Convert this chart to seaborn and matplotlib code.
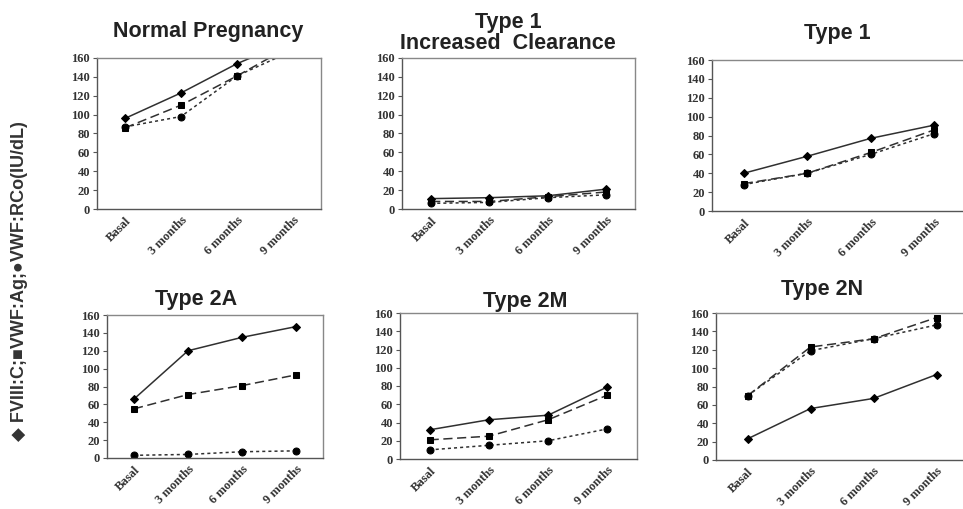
import numpy as np
import pandas as pd
import matplotlib
matplotlib.use("Agg")
import matplotlib.pyplot as plt
import seaborn as sns

sns.set_style("white")
plt.rcParams['font.family'] = ['Liberation Sans', 'DejaVu Sans']

categories = ["Basal", "3 months", "6 months", "9 months"]
yticks = [0, 20, 40, 60, 80, 100, 120, 140, 160]

panel_titles = ["Normal Pregnancy", "Type 1\nIncreased  Clearance", "Type 1",
                "Type 2A", "Type 2M", "Type 2N"]

# FVIII:C (solid, diamond), VWF:Ag (dashed, square), VWF:RCo (dotted, circle)
normal_fviii = [96, 123, 154, 179]
normal_ag = [86, 110, 141, 174]
normal_rco = [87, 98, 141, 168]

t1ic_fviii = [11, 12, 14, 21]
t1ic_ag = [8, 8, 13, 18]
t1ic_rco = [6, 7, 12, 15]

t1_fviii = [40, 58, 77, 91]
t1_ag = [29, 40, 62, 86]
t1_rco = [28, 40, 60, 82]

t2a_fviii = [66, 120, 135, 147]
t2a_ag = [55, 71, 81, 93]
t2a_rco = [3, 4, 7, 8]

t2m_fviii = [32, 43, 48, 79]
t2m_ag = [21, 25, 43, 70]
t2m_rco = [10, 15, 20, 33]

t2n_fviii = [23, 56, 67, 93]
t2n_ag = [70, 123, 132, 155]
t2n_rco = [70, 119, 132, 147]

panels = [
    (normal_fviii, normal_ag, normal_rco),
    (t1ic_fviii, t1ic_ag, t1ic_rco),
    (t1_fviii, t1_ag, t1_rco),
    (t2a_fviii, t2a_ag, t2a_rco),
    (t2m_fviii, t2m_ag, t2m_rco),
    (t2n_fviii, t2n_ag, t2n_rco),
]

W, H = 963, 509
fig = plt.figure(figsize=(W / 100, H / 100), dpi=100)

# axes boxes in pixels: left, top, right, bottom
boxes = [
    (97, 58, 321, 209),
    (402, 58, 635, 209),
    (712, 60, 966, 211),
    (107, 315, 323, 458),
    (400, 313, 637, 459),
    (716, 313, 968, 460),
]
title_pos = [(208, 31), (508, 33), (837, 34), (196, 300), (525, 301), (822, 290)]

styles = [
    dict(linestyle="-", marker="D", markersize=4),
    dict(linestyle=(0, (6, 3)), marker="s", markersize=5),
    dict(linestyle=(0, (2, 2)), marker="o", markersize=5),
]
line_color = "#303030"

for i, (series, box, tpos, title) in enumerate(zip(panels, boxes, title_pos, panel_titles)):
    l, t, r, b = box
    ax = fig.add_axes([l / W, 1 - b / H, (r - l) / W, (b - t) / H])
    xpos = np.arange(len(categories)) + 0.5
    for vals, st in zip(series, styles):
        df = pd.DataFrame({"x": xpos, "y": vals})
        sns.lineplot(data=df, x="x", y="y", ax=ax, color=line_color, linewidth=1.1,
                     markeredgecolor="black", markerfacecolor="black", **st)
    ax.set_xlim(0, len(categories))
    ax.set_ylim(0, 160)
    ax.set_yticks(yticks)
    ax.set_yticklabels([str(v) for v in yticks], fontfamily="Liberation Serif",
                       fontweight="bold", fontsize=9, color="#333333")
    ax.set_xticks(np.arange(len(categories) + 1))
    ax.set_xticklabels([])
    ax.set_xticks(xpos, minor=True)
    ax.set_xticklabels(categories, minor=True, rotation=45, ha="right",
                       rotation_mode="anchor", fontfamily="Liberation Serif",
                       fontweight="bold", fontsize=9, color="#333333")
    ax.tick_params(axis="x", which="minor", length=0, pad=4)
    ax.tick_params(axis="x", which="major", length=4, direction="inout", color="#555555")
    ax.tick_params(axis="y", which="major", length=3, direction="out", color="#555555",
                   left=True, pad=2)
    ax.set_xlabel("")
    ax.set_ylabel("")
    for sp in ax.spines.values():
        sp.set_color("#888888")
        sp.set_linewidth(1.0)
    ax.spines["left"].set_color("#555555")
    ax.spines["bottom"].set_color("#555555")
    fig.text(tpos[0] / W, 1 - tpos[1] / H, title, ha="center", va="center",
             fontsize=15.5, fontweight="bold", color="#222222", linespacing=1.05)

fig.text(20 / W, 1 - 281 / H, "◆ FVIII:C;■VWF:Ag;●VWF:RCo(IU/dL)", rotation=90,
         ha="center", va="center", fontsize=13, fontweight="bold", color="#333333",
         family=["Liberation Sans", "DejaVu Sans"])

fig.savefig("out.png", dpi=100)
